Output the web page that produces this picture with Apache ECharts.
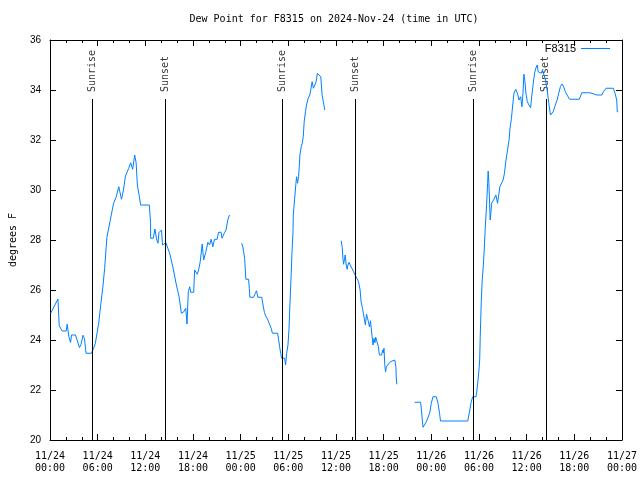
<!DOCTYPE html>
<html><head><meta charset="utf-8">
<script src="https://cdn.jsdelivr.net/npm/echarts/dist/echarts.min.js"></script>
<style>html,body{margin:0;padding:0;background:#fff}#c{width:640px;height:480px}</style>
</head><body><div id="c"></div>
<script>
// hours since 2024-11-24 00:00 UTC
const seg1Hours = [0.09,1.0,1.16,1.54,2.04,2.16,2.38,2.59,2.71,3.21,3.41,3.71,3.91,4.16,4.34,4.54,5.21,5.5,5.71,6.13,6.41,6.66,6.88,7.16,7.59,8.0,8.34,8.66,9.0,9.25,9.5,9.91,10.16,10.41,10.66,10.84,11.0,11.25,11.41,12.5,12.66,12.67,13.0,13.21,13.41,13.59,13.71,14.04,14.16,14.59,14.75,15.09,15.5,15.91,16.25,16.54,16.84,17.09,17.25,17.41,17.59,17.71,18.09,18.21,18.34,18.54,18.71,18.91,19.16,19.34,19.59,19.88,20.09,20.29,20.5,20.71,21.04,21.21,21.54,21.66,21.96,22.16,22.38,22.59];
const seg1Values = [25.07,25.64,24.57,24.36,24.36,24.63,24.13,23.9,24.2,24.2,24.0,23.7,23.83,24.19,24.05,23.47,23.47,23.67,23.87,24.67,25.47,26.13,26.87,28.1,28.8,29.47,29.73,30.13,29.63,30.0,30.56,30.87,31.09,30.83,31.4,31.09,30.2,29.73,29.4,29.4,28.7,28.07,28.07,28.44,28.04,27.87,28.29,28.4,27.8,27.89,27.87,27.44,26.87,26.2,25.73,25.07,25.13,25.27,24.64,25.93,26.13,25.91,25.91,26.8,26.8,26.63,26.8,27.13,27.84,27.2,27.49,27.91,27.8,28.03,27.73,28.03,28.03,28.31,28.31,28.07,28.29,28.4,28.8,29.0];
const seg2Hours = [24.13,24.25,24.38,24.5,24.59,24.66,25.0,25.09,25.16,25.63,25.84,26.0,26.16,26.66,26.84,27.0,27.16,27.38,27.59,27.84,28.0,28.66,28.75,28.91,29.04,29.16,29.54,29.66,29.79,29.96,30.09,30.21,30.34,30.46,30.59,30.63,30.79,30.96,31.04,31.16,31.29,31.38,31.46,31.63,31.75,31.88,32.0,32.16,32.29,32.5,32.71,32.84,33.0,33.16,33.34,33.5,33.66,33.91,34.09,34.25,34.41,34.59];
const seg2Values = [27.87,27.76,27.53,27.27,26.8,26.43,26.43,26.07,25.71,25.71,25.87,25.97,25.71,25.71,25.36,25.09,24.96,24.84,24.67,24.47,24.27,24.27,24.07,23.73,23.47,23.27,23.27,23.0,23.47,23.8,24.47,25.47,26.47,27.47,28.33,29.0,29.63,30.27,30.53,30.27,30.53,30.93,31.4,31.73,31.87,32.13,32.73,33.13,33.4,33.67,33.8,34.03,34.33,34.07,34.2,34.33,34.67,34.67,34.53,33.8,33.53,33.2];
const seg3Hours = [36.66,36.79,36.88,36.96,37.09,37.16,37.29,37.41,37.5,37.66,37.84,38.0,38.21,38.41,38.63,38.84,39.04,39.16,39.34,39.46,39.59,39.71,39.84,39.96,40.09,40.21,40.34,40.41,40.54,40.66,40.79,40.91,41.0,41.21,41.34,41.46,41.75,41.88,41.96,42.04,42.16,42.25,42.34,42.59,42.84,43.0,43.41,43.54,43.59,43.66];
const seg3Values = [27.97,27.71,27.23,27.03,27.27,27.4,27.0,26.83,27.0,27.11,26.96,26.87,26.73,26.6,26.47,26.33,26.0,25.53,25.27,25.27,24.8,24.6,25.04,25.0,24.73,24.53,24.77,24.56,24.51,23.8,24.07,23.89,24.11,24.11,23.73,23.4,23.4,23.6,23.49,23.67,22.93,22.73,22.93,23.0,23.13,23.2,23.2,22.93,22.49,22.23];
const seg4Hours = [45.91,46.66,46.75,46.88,46.96,47.16,47.38,47.59,47.79,48.0,48.21,48.63,48.84,49.04,49.16,52.59,52.79,53.0,53.21,53.63,53.75,53.88,54.0,54.09,54.16,54.29,54.41,54.54,54.66,54.79,54.96,55.09,55.16,55.25,55.41,55.5,55.59,55.84,56.13,56.34,56.46,56.63,56.88,57.04,57.21,57.38,57.5,57.66,57.79,57.91,58.09,58.25,58.41,58.63,58.84,59.04,59.25,59.41,59.54,59.66,59.79,59.91,60.09,60.29,60.5,60.66,60.84,61.0,61.16,61.34,61.46,61.59,61.84,62.0,62.16,62.38,62.59,62.79,63.0,63.13,63.34,63.54,63.84,64.04,64.25,64.46,64.66,64.88,65.09,65.41,66.63,66.96,68.0,68.21,68.84,69.46,69.66,70.0,70.91,71.13,71.34,71.41,71.54];
const seg4Values = [21.51,21.51,21.23,20.76,20.51,20.51,20.73,20.76,21.07,21.47,21.73,21.73,21.47,21.07,20.76,20.76,21.09,21.49,21.73,21.73,22.0,22.4,22.8,23.2,24.13,25.53,26.4,26.93,27.6,28.47,29.4,30.27,30.76,30.27,28.8,29.07,29.47,29.6,29.8,29.47,29.73,30.13,30.29,30.4,30.67,31.13,31.4,31.4,32.0,32.47,32.87,33.4,33.87,34.03,33.87,33.6,33.73,33.33,33.87,34.63,34.33,33.87,33.53,33.4,33.29,33.8,34.27,34.67,34.87,35.0,34.73,34.67,34.67,34.8,34.87,34.4,34.0,33.47,33.0,32.96,33.13,33.33,33.6,33.87,34.13,34.24,34.13,33.93,33.8,33.63,33.63,33.89,33.89,33.84,33.8,33.8,33.93,34.07,34.07,33.87,33.6,33.13,33.13];

const sunEventNames = ['Sunrise','Sunset','Sunrise','Sunset','Sunrise','Sunset'];
const sunEventHours = [5.33, 14.54, 29.29, 38.41, 53.29, 62.41];
const sunLineTop = 33.64;
const yMin = 20, yMax = 36, yStep = 2;
const xMin = 0, xMax = 72, xStep = 6;
const firstDay = 24;

const segs = [[seg1Hours, seg1Values],[seg2Hours, seg2Values],[seg3Hours, seg3Values],[seg4Hours, seg4Values]];
const lineData = [];
segs.forEach((s, i) => {
  if (i > 0) {
    const prevEnd = segs[i-1][0][segs[i-1][0].length-1];
    lineData.push([(prevEnd + s[0][0]) / 2, '-']);
  }
  s[0].forEach((h, j) => lineData.push([h, s[1][j]]));
});

const FONT = 'DejaVu Sans Mono';
function fmtX(v) {
  const day = firstDay + Math.floor(v / 24);
  const hr = Math.round(v % 24);
  return '11/' + day + '\n' + (hr < 10 ? '0' : '') + hr + ':00';
}
const tickCommon = { show: true, inside: true, length: 6, lineStyle: { color: '#000', width: 1 } };
const minorCommon = { show: true, splitNumber: 3, length: 3, lineStyle: { color: '#000', width: 1 } };

const chart = echarts.init(document.getElementById('c'), null, { renderer: 'canvas' });
chart.setOption({
  animation: false,
  backgroundColor: '#fff',
  title: {
    text: 'Dew Point for F8315 on 2024-Nov-24 (time in UTC)',
    left: 334, textAlign: 'center', top: 14, padding: 0,
    textStyle: { fontFamily: FONT, fontSize: 10, fontWeight: 'normal', color: '#000' }
  },
  legend: {
    data: ['F8315'], right: 30, top: 43, align: 'right', padding: 0,
    icon: 'rect', itemWidth: 29, itemHeight: 1, itemGap: 6,
    textStyle: { fontFamily: 'Liberation Sans', fontSize: 11, color: '#000' }
  },
  grid: { left: 46, right: 18, top: 40, bottom: 40, containLabel: false },
  xAxis: [{
    type: 'value', min: xMin, max: xMax, interval: xStep, position: 'bottom',
    axisLine: { show: true, onZero: false, lineStyle: { color: '#000', width: 1 } },
    axisTick: tickCommon, minorTick: minorCommon, splitLine: { show: false },
    axisLabel: { formatter: fmtX, fontFamily: FONT, fontSize: 10, color: '#000', margin: 10, lineHeight: 12 }
  }, {
    type: 'value', min: xMin, max: xMax, interval: xStep, position: 'top',
    axisLine: { show: true, onZero: false, lineStyle: { color: '#000', width: 1 } },
    axisTick: tickCommon, minorTick: minorCommon, splitLine: { show: false },
    axisLabel: { show: false }
  }],
  yAxis: [{
    type: 'value', min: yMin, max: yMax, interval: yStep, position: 'left',
    name: 'degrees F', nameLocation: 'middle', nameGap: 32, nameRotate: 90,
    nameTextStyle: { fontFamily: FONT, fontSize: 10, color: '#000' },
    axisLine: { show: true, onZero: false, lineStyle: { color: '#000', width: 1 } },
    axisTick: tickCommon, splitLine: { show: false },
    axisLabel: { fontFamily: 'Liberation Sans', fontSize: 10, color: '#000', margin: 9 }
  }, {
    type: 'value', min: yMin, max: yMax, interval: yStep, position: 'right',
    axisLine: { show: true, onZero: false, lineStyle: { color: '#000', width: 1 } },
    axisTick: tickCommon, splitLine: { show: false },
    axisLabel: { show: false }
  }],
  series: [{
    name: 'F8315', type: 'line', data: lineData, symbol: 'none', showSymbol: false,
    connectNulls: false,
    lineStyle: { color: '#0080ff', width: 1 }, itemStyle: { color: '#0080ff' },
    markLine: {
      silent: true, symbol: 'none', animation: false,
      lineStyle: { color: '#000', width: 1, type: 'solid' },
      label: { show: false },
      data: sunEventHours.map(h => [{ coord: [h, sunLineTop] }, { coord: [h, yMin] }])
    }
  }, {
    name: 'sun', type: 'scatter', symbolSize: 0, silent: true,
    data: sunEventHours.map((h, i) => ({ name: sunEventNames[i], value: [h, sunLineTop] })),
    label: {
      show: true, formatter: '{b}', position: 'top', distance: 7, rotate: 90,
      align: 'left', verticalAlign: 'middle',
      fontFamily: FONT, fontSize: 10, color: '#000'
    }
  }]
});
</script></body></html>
